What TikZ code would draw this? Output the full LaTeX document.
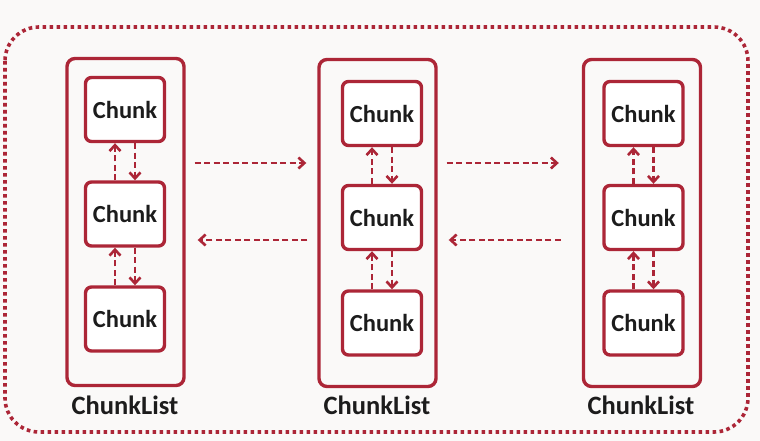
\documentclass[tikz,border=0pt]{standalone}
\usepackage{fontspec}
\setmainfont{Carlito}
\usetikzlibrary{arrows.meta,calc}
\definecolor{dred}{RGB}{172,38,55}
\definecolor{txt}{RGB}{28,28,28}
\definecolor{bg}{RGB}{250,249,248}
\tikzset{
  listbox/.style={draw=dred,line width=3.4pt,rounded corners=8pt,minimum width=117pt,minimum height=327pt,inner sep=0pt},
  chunkbox/.style={draw=dred,line width=3.4pt,rounded corners=6pt,minimum width=79pt,minimum height=64pt,inner sep=0pt,fill=white,
    font=\fontsize{24.5}{26}\selectfont\bfseries,text=txt},
  listlabel/.style={font=\fontsize{26.5}{28}\selectfont\bfseries,text=txt,inner sep=0pt},
  darrow/.style={draw=dred,line width=2.6pt,dash pattern=on 6pt off 3.5pt,-{Straight Barb[length=6pt,width=11pt,line width=2.6pt]}},
}
\begin{document}
\begin{tikzpicture}[x=1pt,y=-1pt]
\fill[bg] (0,0) rectangle (760,441);
\useasboundingbox (0,0) rectangle (760,441);
\draw[dred,line width=3.6pt,dash pattern=on 3.6pt off 3.4pt,rounded corners=34pt] (5,27) rectangle (748,432);
% containers
\node[listbox] (L1) at (125.5,222) {};
\node[listbox] (L2) at (377.5,223) {};
\node[listbox] (L3) at (642,223) {};
% chunks
\node[chunkbox] (a1) at (125,109.5) {Chunk};
\node[chunkbox] (a2) at (125,214) {Chunk};
\node[chunkbox] (a3) at (125,319) {Chunk};
\node[chunkbox] (b1) at (382,113.5) {Chunk};
\node[chunkbox] (b2) at (382,217.5) {Chunk};
\node[chunkbox] (b3) at (382,323) {Chunk};
\node[chunkbox] (c1) at (643.5,113.5) {Chunk};
\node[chunkbox] (c2) at (643.5,217.5) {Chunk};
\node[chunkbox] (c3) at (643.5,323) {Chunk};
% labels
\node[listlabel] (t1) at (125,405) {ChunkList};
\node[listlabel] (t2) at (377,405) {ChunkList};
\node[listlabel] (t3) at (641,405) {ChunkList};
% vertical links
\foreach \u/\d in {a1/a2,a2/a3,b1/b2,b2/b3,c1/c2,c2/c3}{
  \draw[darrow] ([xshift=-10pt]\d.north) -- ([xshift=-10pt]\u.south);
  \draw[darrow] ([xshift=10pt]\u.south) -- ([xshift=10pt]\d.north);
}
% horizontal links
\coordinate (rowR) at (0,163);
\coordinate (rowL) at (0,240);
\draw[darrow,shorten <=9pt,shorten >=11pt] (L1.east |- rowR) -- (L2.west |- rowR);
\draw[darrow,shorten <=9pt,shorten >=23pt] (L2.east |- rowR) -- (L3.west |- rowR);
\draw[darrow,shorten <=10pt,shorten >=12pt] (L2.west |- rowL) -- (L1.east |- rowL);
\draw[darrow,shorten <=21pt,shorten >=11pt] (L3.west |- rowL) -- (L2.east |- rowL);
\end{tikzpicture}
\end{document}
